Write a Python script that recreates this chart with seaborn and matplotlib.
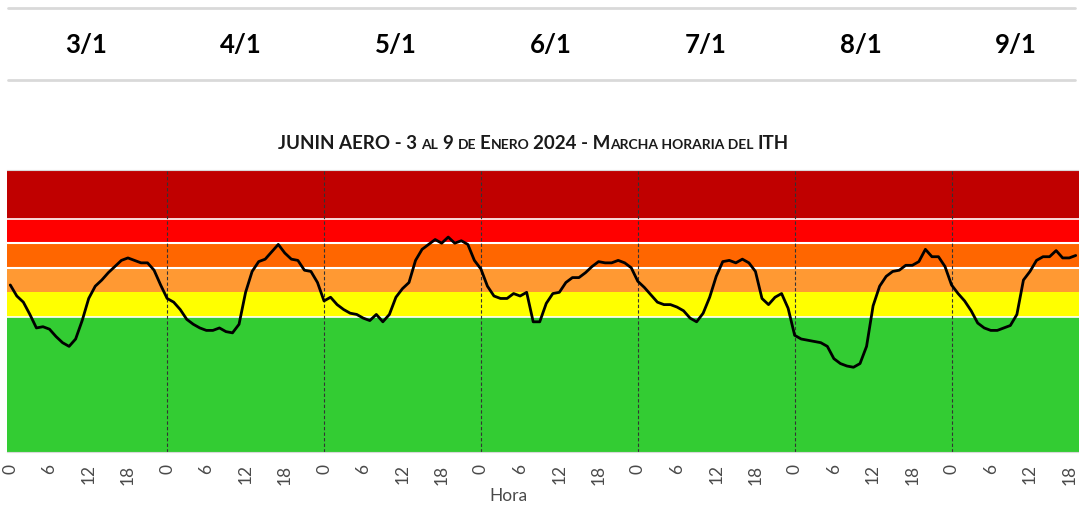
import seaborn as sns
import matplotlib.pyplot as plt
from matplotlib.lines import Line2D

# hourly ITH, JUNIN AERO, 3 to 9 January 2024
ith = [
    70.6, 69.7, 69.2, 68.2, 67.1, 67.2, 67.0, 66.4, 65.9, 65.6, 66.2, 67.7,
    69.5, 70.5, 71.0, 71.6, 72.1, 72.6, 72.8, 72.6, 72.4, 72.4, 71.8, 70.6,
    69.5, 69.2, 68.6, 67.8, 67.4, 67.1, 66.9, 66.9, 67.1, 66.8, 66.7, 67.4,
    70.0, 71.7, 72.5, 72.7, 73.3, 73.9, 73.2, 72.7, 72.6, 71.8, 71.7, 70.8,
    69.3, 69.6, 69.0, 68.6, 68.3, 68.2, 67.9, 67.7, 68.2, 67.6, 68.2, 69.6,
    70.3, 70.8, 72.6, 73.5, 73.9, 74.3, 74.0, 74.5, 74.0, 74.2, 73.9, 72.6,
    71.9, 70.5, 69.7, 69.5, 69.5, 69.9, 69.7, 70.0, 67.6, 67.6, 69.1, 69.9,
    70.0, 70.8, 71.2, 71.2, 71.6, 72.1, 72.5, 72.4, 72.4, 72.6, 72.4, 72.0,
    70.9, 70.4, 69.8, 69.2, 69.0, 69.0, 68.8, 68.5, 67.9, 67.6, 68.3, 69.6,
    71.3, 72.5, 72.6, 72.4, 72.7, 72.4, 71.7, 69.5, 69.0, 69.6, 69.9, 68.7,
    66.5, 66.2, 66.1, 66.0, 65.9, 65.6, 64.6, 64.2, 64.0, 63.9, 64.2, 65.6,
    68.9, 70.5, 71.3, 71.7, 71.8, 72.2, 72.2, 72.5, 73.5, 72.9, 72.9, 72.1,
    70.6, 69.9, 69.3, 68.5, 67.5, 67.1, 66.9, 66.9, 67.1, 67.3, 68.2, 71.0,
    71.7, 72.6, 72.9, 72.9, 73.4, 72.8, 72.8, 73.0,
]
hora = list(range(len(ith)))

dias = ['3/1', '4/1', '5/1', '6/1', '7/1', '8/1', '9/1']
hora_labels = ['0', '6', '12', '18'] * 7

# ITH category limits and colours (bottom to top)
limites = [57, 68, 70, 72, 74, 76, 80]
colores = ['#33CC33', '#FFFF00', '#FF9933', '#FF6600', '#FF0000', '#C00000']

sns.set_style('white')
plt.rcParams['font.family'] = ['Lato', 'DejaVu Sans']

W, H = 1079, 505
fig = plt.figure(figsize=(W / 100, H / 100), dpi=100)
ax = fig.add_axes([7 / W, 53 / H, 1072 / W, 282.5 / H])

# coloured bands
for lo, hi, c in zip(limites[:-1], limites[1:], colores):
    ax.axhspan(lo, hi, color=c, lw=0, zorder=0)
for y, lw in [(68, 1.2), (72, 1.5), (74, 1.5), (76, 1.2)]:
    ax.axhline(y, color='white', lw=lw, zorder=1)

# day separators
for d in range(24, len(ith), 24):
    ax.axvline(d, color='#333333', lw=0.8, ls=(0, (3, 2)), zorder=2)

sns.lineplot(x=hora, y=ith, color='black', lw=2, ax=ax, zorder=3)

ax.set_xlim(-0.5, len(ith) - 0.5)
ax.set_ylim(limites[0], limites[-1])
ax.set_yticks([])
ax.set_xticks(range(0, len(ith), 6))
ax.set_xticklabels(hora_labels, rotation=90, fontsize=12.5, color='#4a4a4a')
ax.tick_params(axis='x', length=0, pad=9)
ax.set_ylabel('')
ax.set_xlabel('Hora', fontsize=12.5, color='#4a4a4a')
ax.xaxis.set_label_coords((508 - 7) / 1072, (452 - 488) / 282.5)
for s in ['left', 'right']:
    ax.spines[s].set_visible(False)
for s in ['top', 'bottom']:
    ax.spines[s].set_color('#d9d9d9')
    ax.spines[s].set_linewidth(0.8)

# header with dates
for yy in [8, 80]:
    fig.add_artist(Line2D([8 / W, 1075 / W], [1 - yy / H, 1 - yy / H],
                          color='#d9d9d9', lw=2))
for i, d in enumerate(dias):
    fig.text((86 + 155 * i) / W, 1 - 45 / H, d, ha='center', va='center',
             fontsize=18.5, fontweight='bold', color='black')

# title in small caps, centred at x=533
big, small = 13.5, 10
partes = [('JUNIN AERO - 3', big, True), ('AL', small, True), ('9', big, True),
          ('DE', small, True), ('E', big, False), ('NERO', small, True),
          ('2024 - M', big, False), ('ARCHA HORARIA DEL', small, True),
          ('ITH', big, False)]
renderer = fig.canvas.get_renderer()
textos, offs = [], []
x = 0
for txt, size, espacio in partes:
    t = fig.text(0, 1 - 149 / H, txt, fontsize=size, fontweight='bold',
                 ha='left', va='baseline', color='#1a1a1a')
    textos.append(t)
    offs.append(x)
    x += t.get_window_extent(renderer).width
    if espacio:
        x += size * 0.26 * 100 / 72
x0 = 533 - x / 2
for t, o in zip(textos, offs):
    t.set_x((x0 + o) / W)

fig.savefig('out.png', dpi=100)
